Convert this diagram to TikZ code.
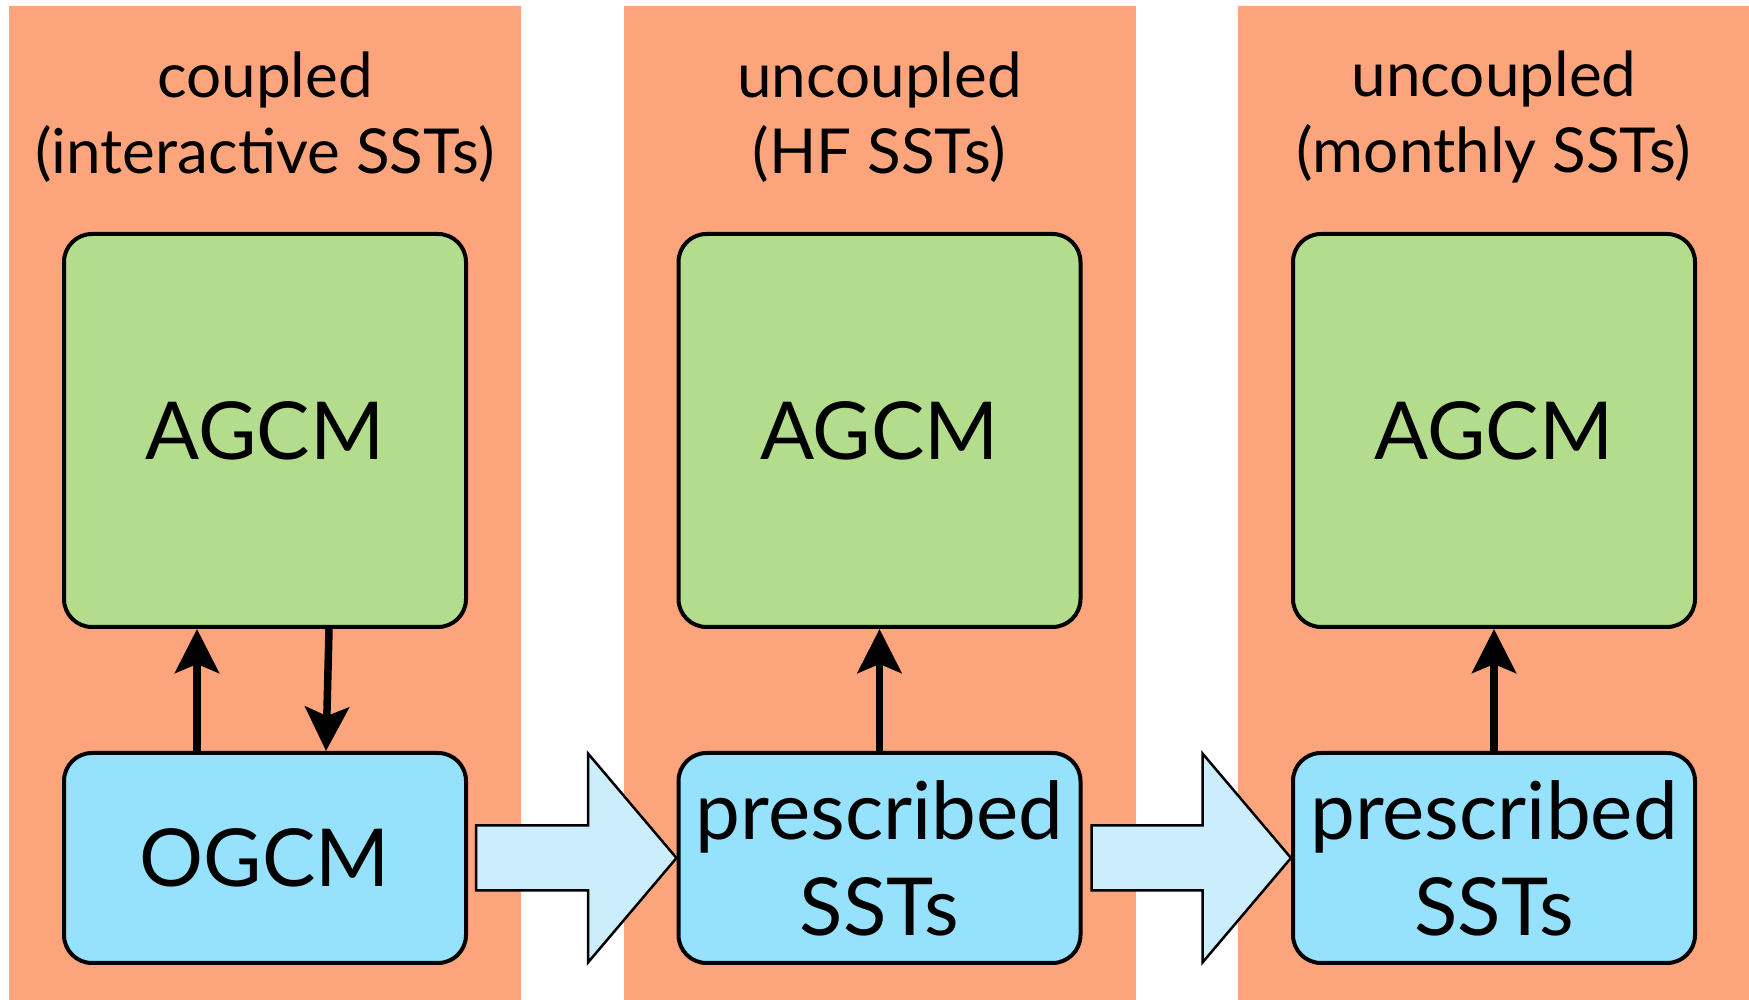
\documentclass[tikz,border=0pt]{standalone}
\usepackage{fontspec}
\setmainfont{Lato}
\usetikzlibrary{positioning,arrows.meta,calc}
\definecolor{panelsalmon}{RGB}{252,165,125}
\definecolor{agcmgreen}{RGB}{179,220,140}
\definecolor{sstblue}{RGB}{150,226,252}
\definecolor{flowblue}{RGB}{204,238,252}

\begin{document}
\begin{tikzpicture}[x=1pt, y=1pt,
  panel/.style={fill=panelsalmon, minimum width=512pt, minimum height=994pt, inner sep=0pt},
  title/.style={align=center, font=\fontsize{62}{76}\selectfont},
  model/.style={draw, line width=4pt, rounded corners=28pt, minimum width=402pt, align=center, font=\fontsize{80}{96}\selectfont},
  atmos/.style={model, fill=agcmgreen, minimum height=393pt},
  ocean/.style={model, fill=sstblue, minimum height=210pt},
  link/.style={line width=7.5pt, -{Stealth[length=44pt, width=44pt, inset=9pt]}},
  flow/.style={draw, line width=2.5pt, fill=flowblue, line join=miter}]
\useasboundingbox (0,0) rectangle (1749,1000);

% three experiment columns
\node[panel] (coupledpanel) at (265,497) {};
\node[panel] (hfpanel) at (879.5,497) {};
\node[panel] (monthlypanel) at (1494,497) {};

\node[title] (coupledtitle) at (265,883) {coupled\\(interactive SSTs)};
\node[title] (hftitle) at (879.5,883) {uncoupled\\(HF SSTs)};
\node[title] (monthlytitle) at (1494,883) {uncoupled\\(monthly SSTs)};

% models
\node[atmos] (agcmcoupled) at (265,569.5) {AGCM};
\node[atmos] (agcmhf) at (879.5,569.5) {AGCM};
\node[atmos] (agcmmonthly) at (1494,569.5) {AGCM};

\node[ocean] (ogcm) at (265,142) {OGCM};
\node[ocean] (ssthf) at (879.5,142) {prescribed\\SSTs};
\node[ocean] (sstmonthly) at (1494,142) {prescribed\\SSTs};

% exchanges
\draw[link] ($(ogcm.north)+(-68,0)$) -- ($(agcmcoupled.south)+(-68,0)$);
\draw[link] ($(agcmcoupled.south)+(64,0)$) -- ($(ogcm.north)+(61,0)$);
\draw[link] (ssthf) -- (agcmhf);
\draw[link] (sstmonthly) -- (agcmmonthly);

% SSTs handed on to the next run
\draw[flow] ($(ogcm.east)+(8,32.5)$) -- ($(ssthf.west)+(-88.5,32.5)$)
  -- ($(ssthf.west)+(-88.5,104.5)$) -- (ssthf.west)
  -- ($(ssthf.west)+(-88.5,-104.5)$) -- ($(ssthf.west)+(-88.5,-32.5)$)
  -- ($(ogcm.east)+(8,-32.5)$) -- cycle;
\draw[flow] ($(ssthf.east)+(9,32.5)$) -- ($(sstmonthly.west)+(-88.5,32.5)$)
  -- ($(sstmonthly.west)+(-88.5,104.5)$) -- (sstmonthly.west)
  -- ($(sstmonthly.west)+(-88.5,-104.5)$) -- ($(sstmonthly.west)+(-88.5,-32.5)$)
  -- ($(ssthf.east)+(9,-32.5)$) -- cycle;
\end{tikzpicture}
\end{document}
